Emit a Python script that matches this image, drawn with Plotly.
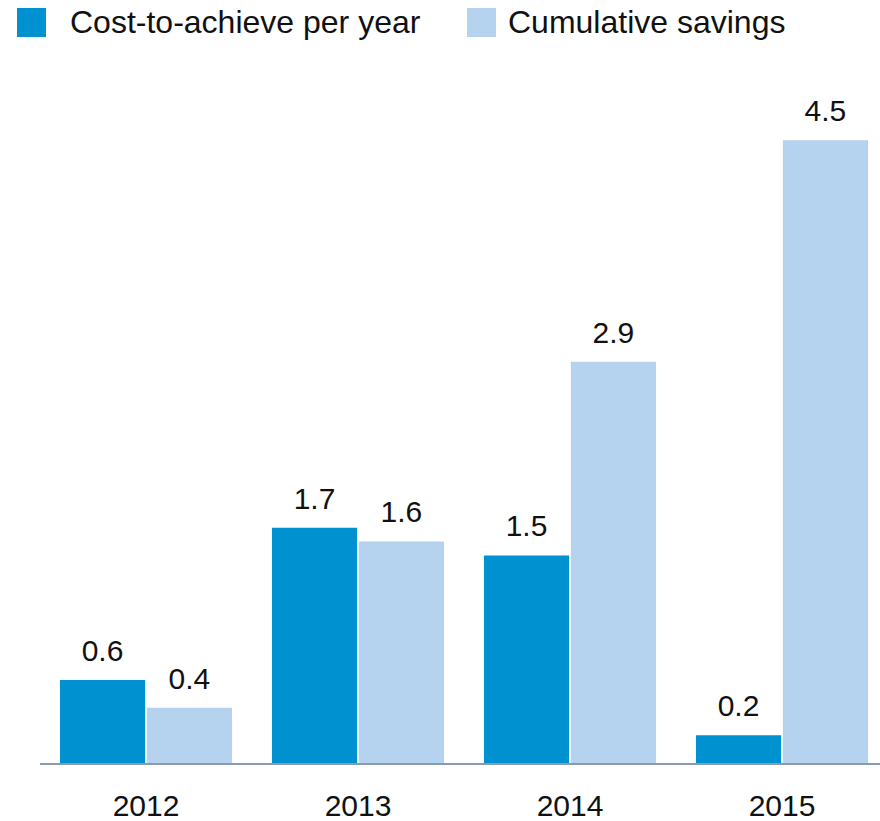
import plotly.graph_objects as go

years = ["2012", "2013", "2014", "2015"]
cost_to_achieve = [0.6, 1.7, 1.5, 0.2]
cumulative_savings = [0.4, 1.6, 2.9, 4.5]
series_names = ["Cost-to-achieve per year", "Cumulative savings"]
dark_blue = "#0091d0"
light_blue = "#b5d2ee"
font_family = "Liberation Sans, Arial, sans-serif"

W, H = 880, 821
ml, mr, mt, mb = 40, 0, 71, 58
pw, ph = W - ml - mr, H - mt - mb

def px_x(p):
    return (p - ml) / pw

def px_y(p):
    return (H - mb - p) / ph

fig = go.Figure()
series = [(cost_to_achieve, series_names[0], dark_blue),
          (cumulative_savings, series_names[1], light_blue)]
for vals, name, col in series:
    fig.add_trace(go.Bar(
        x=years, y=vals, name=name, marker=dict(color=col, line=dict(width=0)),
        showlegend=False, hoverinfo="x+y",
    ))
for vals, name, col in series:
    fig.add_trace(go.Scatter(
        x=years, y=vals, mode="markers+text", name=name,
        marker=dict(size=17, opacity=0, color=col),
        text=[f"{v:.1f}" for v in vals], textposition="top center",
        textfont=dict(size=30, color="#111111", family=font_family),
        cliponaxis=False, showlegend=False, hoverinfo="skip",
    ))

shapes = []
annotations = []
legend_items = [(17, 70, series_names[0], dark_blue), (467, 508, series_names[1], light_blue)]
for sq_x, tx, name, col in legend_items:
    shapes.append(dict(type="rect", xref="paper", yref="paper",
                       x0=px_x(sq_x), x1=px_x(sq_x + 29), y0=px_y(37), y1=px_y(8),
                       fillcolor=col, line=dict(width=0)))
    annotations.append(dict(xref="paper", yref="paper", x=px_x(tx - 2), y=px_y(22.5),
                            xanchor="left", yanchor="middle", showarrow=False, text=name,
                            font=dict(size=32, color="#111111", family=font_family)))

fig.update_layout(
    width=W, height=H,
    margin=dict(l=ml, r=mr, t=mt, b=mb, pad=0),
    paper_bgcolor="white", plot_bgcolor="white",
    barmode="group", bargap=0.18, bargroupgap=0.02,
    scattermode="group", scattergap=0.18,
    shapes=shapes, annotations=annotations,
    font=dict(family=font_family, color="#111111"),
)
fig.update_xaxes(
    type="category", range=[-0.5, 3.5 - 8 / 212], showline=True, linecolor="#8a9bb1",
    linewidth=2, ticks="", showgrid=False, zeroline=False,
    tickfont=dict(size=30, color="#111111", family=font_family),
    ticklabelstandoff=15,
)
fig.update_yaxes(range=[0, 5], visible=False, showgrid=False, zeroline=False)

fig.write_html(
    "out.html",
    config={"displayModeBar": False},
    post_script="document.body.style.margin='0';document.body.style.padding='0';window.dispatchEvent(new Event('resize'));",
)
